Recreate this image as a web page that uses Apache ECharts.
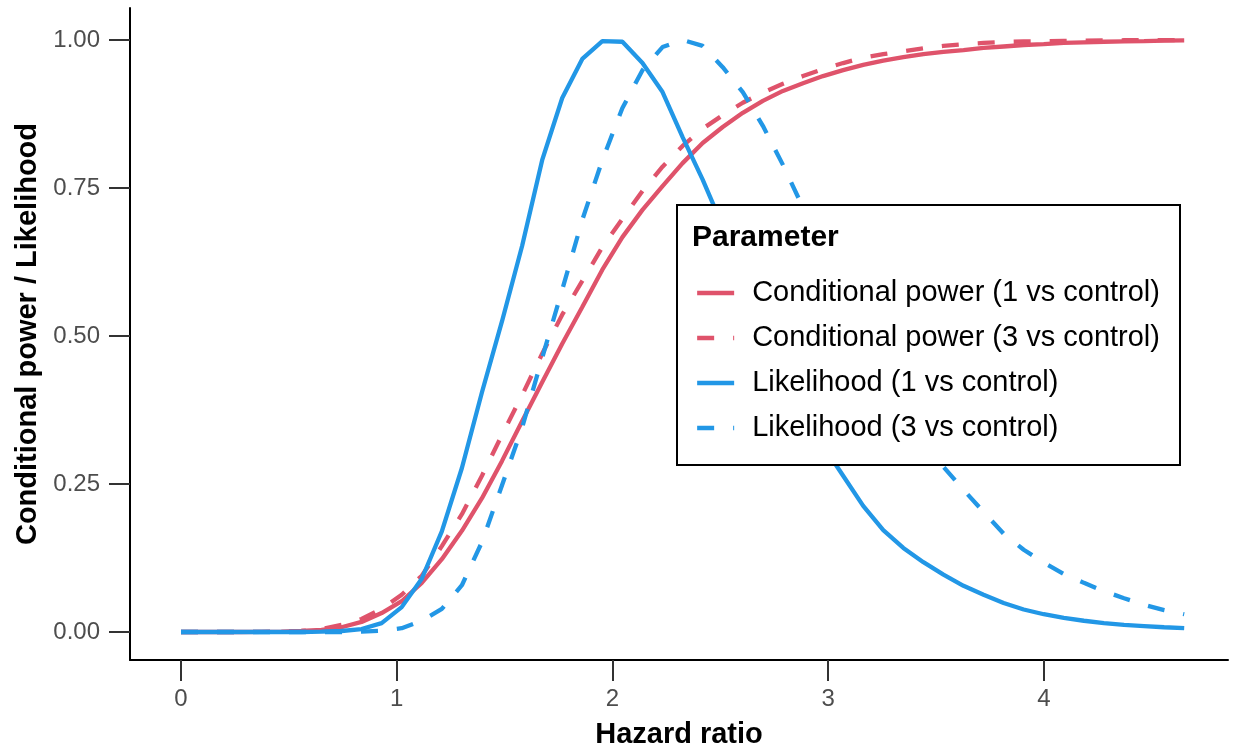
<!DOCTYPE html>
<html>
<head>
<meta charset="utf-8">
<title>Conditional power and likelihood by hazard ratio</title>
<script src="https://cdn.jsdelivr.net/npm/echarts@6/dist/echarts.min.js"></script>
<style>
  html, body { margin: 0; padding: 0; background: #ffffff; }
  #chart { width: 1238px; height: 751px; }
</style>
</head>
<body>
<div id="chart"></div>
<script>
// Hazard ratio grid
const hazardRatio = [
  0, 0.093, 0.186, 0.279, 0.372, 0.465, 0.558, 0.651, 0.744, 0.837,
  0.93, 1.023, 1.116, 1.209, 1.302, 1.395, 1.488, 1.581, 1.674, 1.767,
  1.86, 1.953, 2.046, 2.139, 2.232, 2.325, 2.418, 2.511, 2.604, 2.697,
  2.79, 2.883, 2.976, 3.069, 3.162, 3.255, 3.348, 3.441, 3.534, 3.627,
  3.72, 3.813, 3.906, 3.999, 4.092, 4.185, 4.278, 4.371, 4.464, 4.557,
  4.65
];

// Conditional power, arm 1 vs control
const condPower1 = [
  0, 0, 0, 0, 0.0002, 0.0006, 0.002, 0.0035, 0.008, 0.017,
  0.032, 0.052, 0.083, 0.123, 0.171, 0.226, 0.289, 0.356, 0.422, 0.487,
  0.549, 0.612, 0.667, 0.713, 0.753, 0.792, 0.826, 0.853, 0.877, 0.897,
  0.914, 0.927, 0.939, 0.949, 0.958, 0.965, 0.971, 0.976, 0.980, 0.983,
  0.9865, 0.989, 0.9915, 0.993, 0.995, 0.996, 0.997, 0.9975, 0.998, 0.9988,
  0.9992
];

// Conditional power, arm 3 vs control
const condPower3 = [
  0, 0, 0, 0, 0.0003, 0.0008, 0.0017, 0.005, 0.012, 0.022,
  0.039, 0.063, 0.095, 0.145, 0.199, 0.264, 0.333, 0.400, 0.470, 0.536,
  0.593, 0.650, 0.698, 0.745, 0.786, 0.821, 0.850, 0.873, 0.894, 0.911,
  0.926, 0.939, 0.951, 0.961, 0.970, 0.976, 0.981, 0.986, 0.990, 0.993,
  0.995, 0.9965, 0.9975, 0.998, 0.9985, 0.999, 0.9993, 0.9995, 0.9997, 0.9998,
  0.9999
];

// Scaled likelihood, arm 1 vs control
const likelihood1 = [
  0, 0, 0, 0, 0, 0, 0, 0.0005, 0.0017, 0.005,
  0.015, 0.042, 0.090, 0.170, 0.277, 0.405, 0.525, 0.652, 0.797, 0.902,
  0.968, 0.998, 0.997, 0.961, 0.912, 0.836, 0.764, 0.685, 0.600, 0.520,
  0.445, 0.375, 0.315, 0.264, 0.213, 0.172, 0.142, 0.118, 0.097, 0.078,
  0.063, 0.049, 0.038, 0.030, 0.024, 0.019, 0.015, 0.012, 0.010, 0.008,
  0.0065
];

// Scaled likelihood, arm 3 vs control
const likelihood3 = [
  0, 0, 0, 0, 0, 0, 0, 0, 0, 0.0005,
  0.002, 0.0065, 0.019, 0.039, 0.079, 0.152, 0.248, 0.345, 0.463, 0.578,
  0.696, 0.797, 0.885, 0.949, 0.988, 1.000, 0.990, 0.954, 0.912, 0.855,
  0.789, 0.717, 0.650, 0.578, 0.507, 0.440, 0.378, 0.325, 0.279, 0.240,
  0.203, 0.166, 0.139, 0.117, 0.098, 0.083, 0.069, 0.057, 0.046, 0.037,
  0.030
];

const xTicks = [0, 1, 2, 3, 4];
const yTicks = [0, 0.25, 0.5, 0.75, 1];

const seriesNames = [
  'Conditional power (1 vs control)',
  'Conditional power (3 vs control)',
  'Likelihood (1 vs control)',
  'Likelihood (3 vs control)'
];

const RED = '#DF536B';
const BLUE = '#2297E6';
const FONT = '"Liberation Sans", Arial, Helvetica, sans-serif';
const DASH = [17, 19];
const LINE_W = 4.3;

function pairs(values) {
  return hazardRatio.map((x, i) => [x, values[i]]);
}

function lineSeries(name, values, color, dashed) {
  return {
    name: name,
    type: 'line',
    data: pairs(values),
    symbol: 'none',
    showSymbol: false,
    smooth: false,
    silent: true,
    z: 2,
    lineStyle: {
      color: color,
      width: LINE_W,
      type: dashed ? DASH : 'solid',
      cap: 'butt'
    },
    itemStyle: { color: color }
  };
}

const chart = echarts.init(document.getElementById('chart'), null, { renderer: 'canvas' });

chart.setOption({
  animation: false,
  backgroundColor: '#ffffff',
  textStyle: { fontFamily: FONT },
  grid: {
    left: 130, right: 10, top: 8, bottom: 91,
    containLabel: false,
    outerBoundsMode: 'none'
  },
  xAxis: {
    type: 'value',
    min: -0.2364,
    max: 4.853,
    name: 'Hazard ratio',
    nameLocation: 'middle',
    nameGap: 60,
    nameTextStyle: { fontFamily: FONT, fontSize: 29, fontWeight: 'bold', color: '#000' },
    axisLine: { show: true, onZero: false, lineStyle: { color: '#000', width: 2 } },
    axisTick: {
      show: true, inside: false, length: 21,
      customValues: xTicks,
      lineStyle: { color: '#333333', width: 2 }
    },
    axisLabel: {
      show: true, margin: 27,
      customValues: xTicks,
      fontFamily: FONT, fontSize: 24, color: '#4D4D4D',
      formatter: v => String(v)
    },
    splitLine: { show: false }
  },
  yAxis: {
    type: 'value',
    min: -0.0473,
    max: 1.054,
    name: 'Conditional power / Likelihood',
    nameLocation: 'middle',
    nameRotate: 90,
    nameGap: 87,
    nameTextStyle: { fontFamily: FONT, fontSize: 29, fontWeight: 'bold', color: '#000' },
    axisLine: { show: true, onZero: false, lineStyle: { color: '#000', width: 2 } },
    axisTick: {
      show: true, inside: false, length: 21,
      customValues: yTicks,
      lineStyle: { color: '#333333', width: 2 }
    },
    axisLabel: {
      show: true, margin: 30,
      customValues: yTicks,
      fontFamily: FONT, fontSize: 24, color: '#4D4D4D',
      formatter: v => v.toFixed(2)
    },
    splitLine: { show: false }
  },
  legend: {
    orient: 'vertical',
    left: 695,
    top: 277,
    z: 6,
    padding: 0,
    itemWidth: 37,
    itemHeight: 6,
    itemGap: 13,
    selectedMode: false,
    data: seriesNames,
    itemStyle: { opacity: 0 },
    lineStyle: { width: LINE_W, cap: 'butt' },
    textStyle: {
      fontFamily: FONT, fontSize: 29, color: '#000',
      lineHeight: 32, padding: [0, 0, 0, 13]
    }
  },
  graphic: [
    {
      type: 'rect',
      z: 4,
      shape: { x: 677, y: 205, width: 503, height: 260 },
      style: { fill: '#ffffff', stroke: '#000000', lineWidth: 2 }
    },
    {
      type: 'text',
      z: 6,
      x: 692,
      y: 238,
      style: {
        text: 'Parameter',
        fontFamily: FONT, fontSize: 30, fontWeight: 'bold',
        fill: '#000', verticalAlign: 'middle', align: 'left'
      }
    }
  ],
  series: [
    lineSeries(seriesNames[0], condPower1, RED, false),
    lineSeries(seriesNames[1], condPower3, RED, true),
    lineSeries(seriesNames[2], likelihood1, BLUE, false),
    lineSeries(seriesNames[3], likelihood3, BLUE, true)
  ]
});
</script>
</body>
</html>
